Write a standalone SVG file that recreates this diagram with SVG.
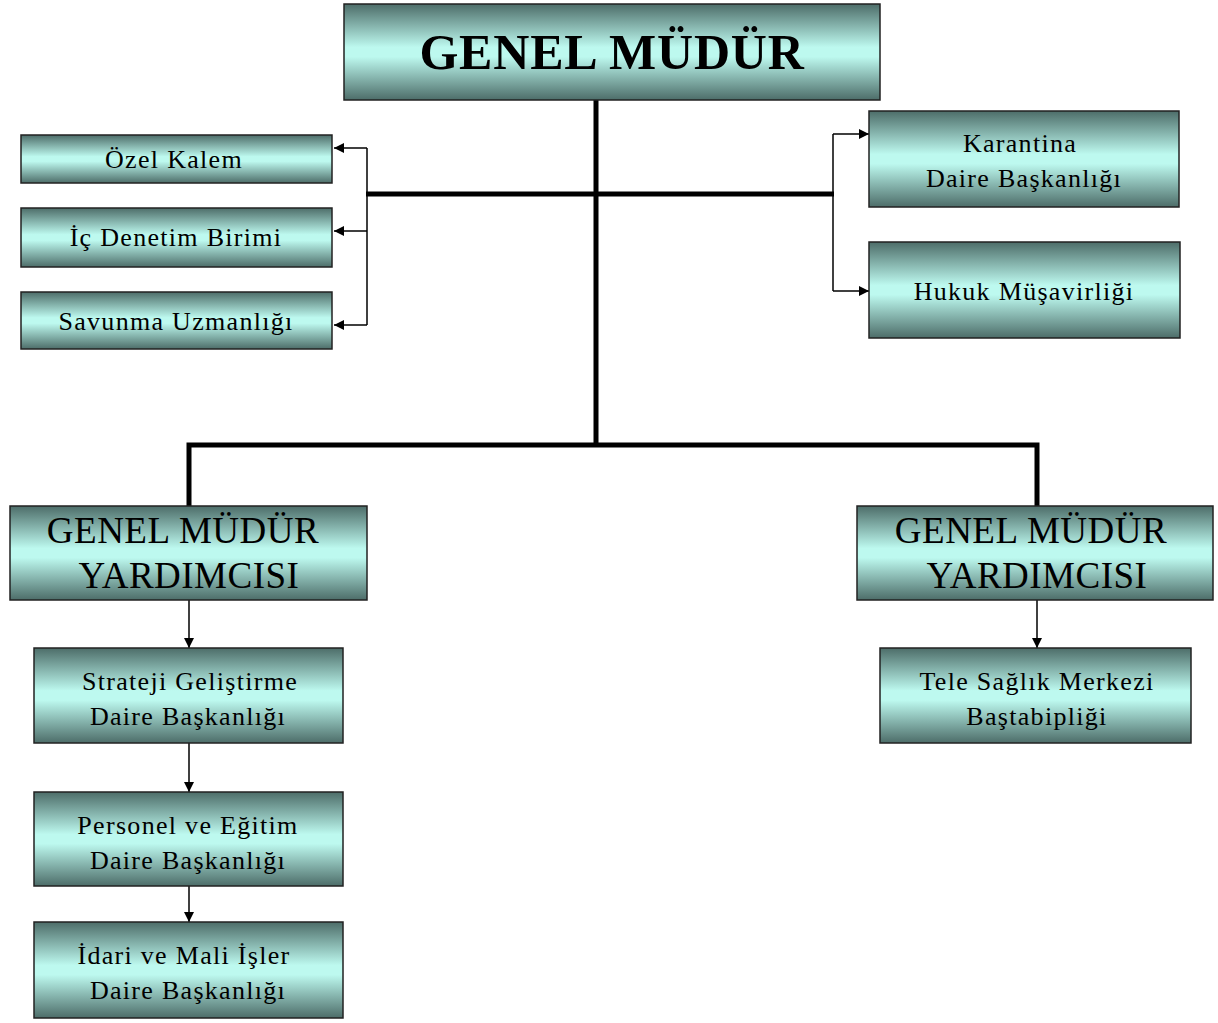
<svg xmlns="http://www.w3.org/2000/svg" width="1218" height="1023" viewBox="0 0 1218 1023">
<defs>
<linearGradient id="g" x1="0" y1="0" x2="0" y2="1">
<stop offset="0" stop-color="#4d6d69"/>
<stop offset="0.45" stop-color="#bdf9ef"/>
<stop offset="0.55" stop-color="#bdf9ef"/>
<stop offset="1" stop-color="#4d6d69"/>
</linearGradient>
<marker id="a" viewBox="0 0 10 10" refX="10" refY="5" markerWidth="10" markerHeight="10" markerUnits="userSpaceOnUse" orient="auto">
<path d="M0,0 L10,5 L0,10 z" fill="#000"/>
</marker>
</defs>
<style>
.box{fill:url(#g);stroke:#222;stroke-width:1.5}
.t{font-family:"Liberation Serif","Times New Roman",serif;fill:#000;text-anchor:middle}
.s{font-size:26px;letter-spacing:1.3px}
.m{font-size:37px;letter-spacing:0.5px}
.b{font-size:50px;font-weight:bold;letter-spacing:0.8px}
.thick{stroke:#000;stroke-width:5;fill:none}
.thin{stroke:#000;stroke-width:1.5;fill:none}
</style>
<g id="connectors">
<path class="thick" d="M596,100 V446"/>
<path class="thick" d="M366,194 H834"/>
<path class="thick" d="M189,506 V445 H1037 V506"/>
<path class="thin" d="M367,148 V325"/>
<path class="thin" marker-end="url(#a)" d="M367,148 H334"/>
<path class="thin" marker-end="url(#a)" d="M367,231 H334"/>
<path class="thin" marker-end="url(#a)" d="M367,325 H334"/>
<path class="thin" d="M833,134 V291"/>
<path class="thin" marker-end="url(#a)" d="M833,134 H869"/>
<path class="thin" marker-end="url(#a)" d="M833,291 H869"/>
<path class="thin" marker-end="url(#a)" d="M189,600 V648"/>
<path class="thin" marker-end="url(#a)" d="M189,743 V792"/>
<path class="thin" marker-end="url(#a)" d="M189,886 V922"/>
<path class="thin" marker-end="url(#a)" d="M1037,600 V648"/>
</g>
<g id="genel-mudur"><rect class="box" x="344" y="4" width="536" height="96"/><text class="t b" x="612" y="69">GENEL MÜDÜR</text></g>
<g id="ozel-kalem"><rect class="box" x="21" y="135" width="311" height="48"/><text class="t s" x="174" y="168">Özel Kalem</text></g>
<g id="ic-denetim"><rect class="box" x="21" y="208" width="311" height="59"/><text class="t s" x="176" y="246">İç Denetim Birimi</text></g>
<g id="savunma"><rect class="box" x="21" y="292" width="311" height="57"/><text class="t s" x="176" y="330">Savunma Uzmanlığı</text></g>
<g id="karantina"><rect class="box" x="869" y="111" width="310" height="96"/><text class="t s" x="1020" y="152">Karantina</text><text class="t s" x="1024" y="187">Daire Başkanlığı</text></g>
<g id="hukuk"><rect class="box" x="869" y="242" width="311" height="96"/><text class="t s" x="1024" y="300">Hukuk Müşavirliği</text></g>
<g id="gmy-left"><rect class="box" x="10" y="506" width="357" height="94"/><text class="t m" x="183" y="543">GENEL MÜDÜR</text><text class="t m" x="189" y="588">YARDIMCISI</text></g>
<g id="gmy-right"><rect class="box" x="857" y="506" width="356" height="94"/><text class="t m" x="1031" y="543">GENEL MÜDÜR</text><text class="t m" x="1037" y="588">YARDIMCISI</text></g>
<g id="strateji"><rect class="box" x="34" y="648" width="309" height="95"/><text class="t s" x="190" y="690">Strateji Geliştirme</text><text class="t s" x="188" y="725">Daire Başkanlığı</text></g>
<g id="personel"><rect class="box" x="34" y="792" width="309" height="94"/><text class="t s" x="188" y="834">Personel ve Eğitim</text><text class="t s" x="188" y="869">Daire Başkanlığı</text></g>
<g id="idari"><rect class="box" x="34" y="922" width="309" height="96"/><text class="t s" x="184" y="964">İdari ve Mali İşler</text><text class="t s" x="188" y="999">Daire Başkanlığı</text></g>
<g id="tele-saglik"><rect class="box" x="880" y="648" width="311" height="95"/><text class="t s" x="1037" y="690">Tele Sağlık Merkezi</text><text class="t s" x="1037" y="725">Baştabipliği</text></g>
</svg>
